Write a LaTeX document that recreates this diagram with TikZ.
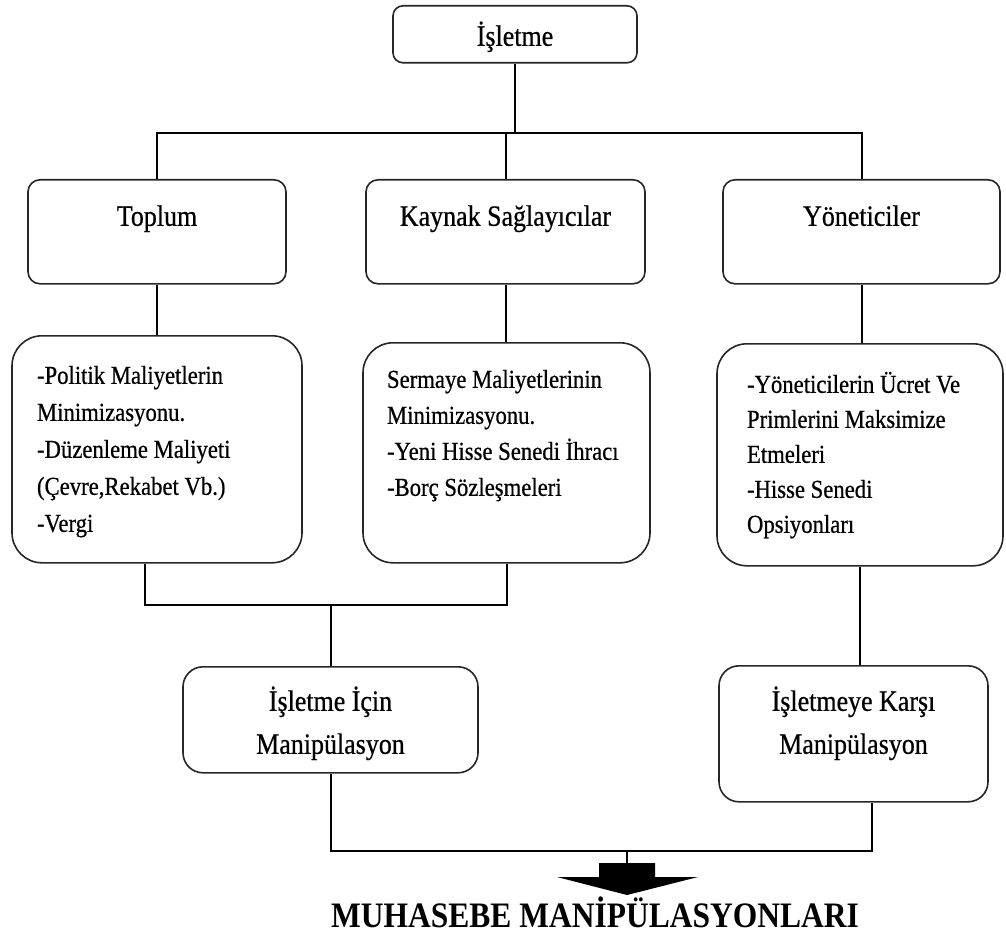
\documentclass[tikz,border=0pt]{standalone}
\usepackage{fontspec}
\setmainfont{Liberation Serif}[FakeStretch=0.88]
\newfontfamily\bodyfont{Liberation Serif}[FakeStretch=0.88,FakeBold=0.6]
\begin{document}
\begin{tikzpicture}[x=1pt,y=-1pt,
  box/.style={draw=black!85, line width=1.6pt, inner sep=0pt, anchor=north, fill=white},
  lbl/.style={font=\bodyfont\fontsize{29.5pt}{43pt}\selectfont},
  conn/.style={line width=2pt, black}]
\useasboundingbox (0,0) rectangle (1006,933);

% top
\node[box, lbl, rounded corners=10pt, minimum width=244pt, text height=40pt, text depth=17pt] (top) at (515,5) {İşletme};

% row 2
\node[box, lbl, rounded corners=12pt, minimum width=258pt, text height=46pt, text depth=58pt] (toplum) at (157,179) {Toplum};
\node[box, lbl, rounded corners=12pt, minimum width=279pt, text height=46pt, text depth=58pt] (kay) at (505.5,179) {Kaynak Sağlayıcılar};
\node[box, lbl, rounded corners=12pt, minimum width=277pt, text height=46pt, text depth=58pt] (yon) at (861.5,179) {Yöneticiler};

% row 3
\node[box, rounded corners=30pt, minimum width=290pt, text height=48pt, text depth=179pt,
  font=\bodyfont\fontsize{25.8pt}{37pt}\selectfont] (pol) at (157,335)
  {\makebox[240pt][l]{\begin{tabular}[t]{@{}l@{}}-Politik Maliyetlerin\\Minimizasyonu.\\-Düzenleme Maliyeti\\(Çevre,Rekabet Vb.)\\-Vergi\end{tabular}}};
\node[box, rounded corners=30pt, minimum width=287pt, text height=45pt, text depth=175pt,
  font=\bodyfont\fontsize{25.8pt}{36pt}\selectfont] (ser) at (506.5,342)
  {\makebox[239pt][l]{\begin{tabular}[t]{@{}l@{}}Sermaye Maliyetlerinin\\Minimizasyonu.\\-Yeni Hisse Senedi İhracı\\-Borç Sözleşmeleri\end{tabular}}};
\node[box, rounded corners=30pt, minimum width=286pt, text height=49pt, text depth=173pt,
  font=\bodyfont\fontsize{25.8pt}{35pt}\selectfont] (yb) at (860,343)
  {\makebox[226pt][l]{\begin{tabular}[t]{@{}l@{}}-Yöneticilerin Ücret Ve\\Primlerini Maksimize\\Etmeleri\\-Hisse Senedi\\Opsiyonları\end{tabular}}};

% row 4
\node[box, lbl, rounded corners=20pt, minimum width=295pt, text height=44pt, text depth=62pt] (isl) at (330.5,666)
  {\begin{tabular}[t]{@{}c@{}}İşletme İçin\\Manipülasyon\end{tabular}};
\node[box, lbl, rounded corners=20pt, minimum width=269pt, text height=45pt, text depth=91pt] (kar) at (853.5,665)
  {\begin{tabular}[t]{@{}c@{}}İşletmeye Karşı\\Manipülasyon\end{tabular}};

% bottom label
\node[font=\bfseries\fontsize{35.8pt}{40pt}\selectfont, anchor=base, inner sep=0pt] (mm) at (595,927) {MUHASEBE MANİPÜLASYONLARI};

% connectors
\coordinate (hbar) at (515,133);
\coordinate (br) at (0,605);
\coordinate (bb) at (0,851);
\coordinate (ah) at (627,851);

\draw[conn] (top.south) -- (top.south |- hbar);
\draw[conn] (toplum.north) -- (toplum.north |- hbar) -- (yon.north |- hbar) -- (yon.north);
\draw[conn] (kay.north) -- (kay.north |- hbar);

\draw[conn] (toplum.south) -- (toplum.south |- pol.north);
\draw[conn] (kay.south) -- (kay.south |- ser.north);
\draw[conn] (yon.south) -- (yon.south |- yb.north);

\draw[conn] ([xshift=-12pt]pol.south) -- ([xshift=-12pt]pol.south |- br) -- (ser.south |- br) -- (ser.south);
\draw[conn] (isl.north |- br) -- (isl.north);
\draw[conn] (yb.south) -- (yb.south |- kar.north);

\draw[conn] (isl.south) -- (isl.south |- bb) -- ([xshift=18.5pt]kar.south |- bb) -- ([xshift=18.5pt]kar.south);
\draw[conn] (ah) -- ++(0,12);
\fill[black] (599,863) -- (655,863) -- (655,877) -- (698,877) -- (627,895) -- (557,877) -- (599,877) -- cycle;
\end{tikzpicture}
\end{document}
